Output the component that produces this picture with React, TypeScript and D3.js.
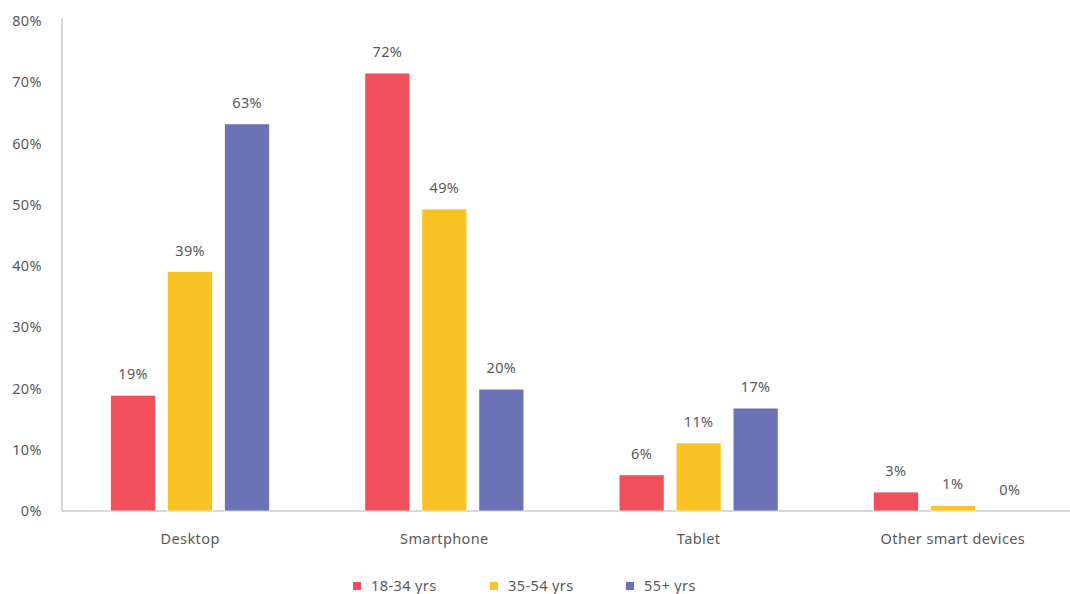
import React, { useEffect, useRef } from 'react';
import * as d3 from 'd3';

const categories = ['Desktop', 'Smartphone', 'Tablet', 'Other smart devices'];
const seriesNames = ['18-34 yrs', '35-54 yrs', '55+ yrs'];
const colors = ['#f0505c', '#f8c323', '#6b73b6'];
const age18to34 = [18.9, 71.5, 5.9, 3.1];
const age35to54 = [39.1, 49.3, 11.1, 0.9];
const age55plus = [63.2, 19.9, 16.8, 0];
const yTicks = [0, 10, 20, 30, 40, 50, 60, 70, 80];

const App = () => {
    const svgRef = useRef<SVGSVGElement>(null);

    useEffect(() => {
        const width = 1070;
        const height = 594;
        const marginLeft = 62;
        const marginTop = 21;
        const baseY = 511;
        const series = [age18to34, age35to54, age55plus];
        const font = "'Noto Sans', sans-serif";
        const textColor = '#595959';
        const fs = 14.5;

        const svg = d3.select(svgRef.current);
        svg.selectAll('*').remove();
        svg.attr('width', width).attr('height', height).attr('viewBox', [0, 0, width, height].join(' '))
            .style('font-family', font).style('letter-spacing', '0.4px');

        const x0 = d3.scaleBand().domain(categories).range([63, 1080]);
        const x1 = d3.scaleBand().domain(seriesNames).range([-79.5, 79.5]).paddingInner(12 / 57);
        const y = d3.scaleLinear().domain([0, 80]).range([baseY, marginTop]);

        // y tick labels
        svg.append('g').selectAll('text').data(yTicks).join('text')
            .attr('x', 42).attr('y', d => y(d)).attr('dy', '0.35em')
            .attr('text-anchor', 'end').attr('font-size', fs).attr('fill', textColor)
            .text(d => d + '%');

        // axes lines
        svg.append('line').attr('x1', marginLeft).attr('x2', marginLeft)
            .attr('y1', 18).attr('y2', baseY).attr('stroke', '#b0b0b0');
        svg.append('line').attr('x1', marginLeft).attr('x2', width)
            .attr('y1', baseY).attr('y2', baseY).attr('stroke', '#b0b0b0');

        const rows = categories.flatMap((c, i) => series.map((s, j) => ({ c, name: seriesNames[j], j, v: s[i] })));

        svg.append('g').selectAll('rect').data(rows).join('rect')
            .attr('x', d => x0(d.c)! + x0.bandwidth() / 2 + x1(d.name)!)
            .attr('width', x1.bandwidth())
            .attr('y', d => y(d.v))
            .attr('height', d => baseY - y(d.v))
            .attr('fill', d => colors[d.j])
            .attr('stroke', '#ffffff').attr('stroke-width', 0.7);

        svg.append('g').selectAll('text').data(rows).join('text')
            .attr('x', d => x0(d.c)! + x0.bandwidth() / 2 + x1(d.name)! + x1.bandwidth() / 2)
            .attr('y', d => y(d.v) - 16)
            .attr('text-anchor', 'middle').attr('font-size', fs).attr('fill', textColor)
            .text(d => Math.round(d.v) + '%');

        // category labels
        svg.append('g').selectAll('text').data(categories).join('text')
            .attr('x', d => x0(d)! + x0.bandwidth() / 2)
            .attr('y', 539).attr('dy', '0.35em')
            .attr('text-anchor', 'middle').attr('font-size', fs).attr('fill', textColor)
            .text(d => d);

        // legend
        const legendX = [353, 490, 626];
        const legend = svg.append('g').selectAll('g').data(seriesNames).join('g')
            .attr('transform', (d, i) => `translate(${legendX[i]},586)`);
        legend.append('rect').attr('x', 0).attr('y', -4).attr('width', 8).attr('height', 8)
            .attr('fill', (d, i) => colors[i]);
        legend.append('text').attr('x', 18).attr('dy', '0.35em')
            .attr('font-size', fs).attr('fill', textColor).text(d => d);
    }, []);

    return <svg ref={svgRef} style={{ position: 'absolute', left: 0, top: 0 }}></svg>;
};

export default App;
